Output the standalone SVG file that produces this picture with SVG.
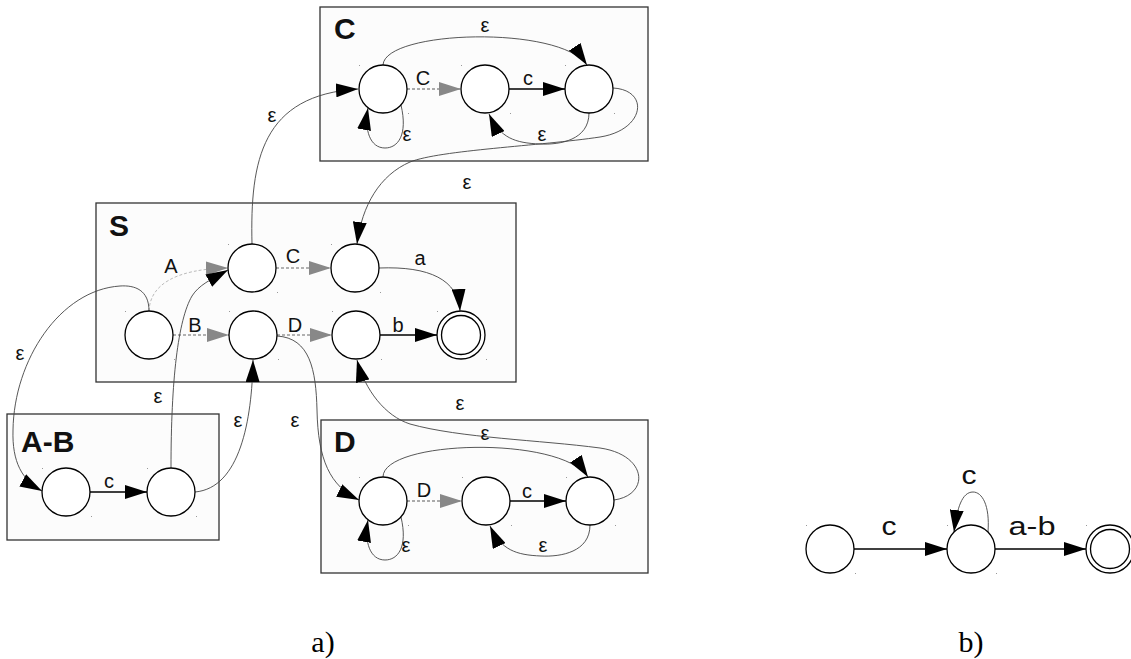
<svg xmlns="http://www.w3.org/2000/svg" width="1131" height="659" viewBox="0 0 1131 659">
<defs>
<style>
.box{fill:#fcfcfc;stroke:#333;stroke-width:1.3}
.boxlbl{font-family:"Liberation Sans",Arial,sans-serif;font-weight:bold;font-size:30px;fill:#111}
.st{fill:#fff;stroke:#000;stroke-width:1.3}
.dot{fill:#999}
.lbl{font-family:"Liberation Sans",Arial,sans-serif;font-size:20px;fill:#111;text-anchor:middle}
.lblb{font-family:"Liberation Sans",Arial,sans-serif;font-size:25px;fill:#111;text-anchor:middle}
.cap{font-family:"Liberation Serif","Times New Roman",serif;font-size:30px;fill:#000;text-anchor:middle}
.sol{fill:none;stroke:#000;stroke-width:1.4}
.cur{fill:none;stroke:#444;stroke-width:0.9}
.dsh{fill:none;stroke:#666;stroke-width:1.1;stroke-dasharray:3 2}
.dshg{fill:none;stroke:#aaa;stroke-width:1.8;stroke-dasharray:3 2}
.dshl{fill:none;stroke:#bbb;stroke-width:1;stroke-dasharray:3 2}
</style>
<marker id="ab" markerUnits="userSpaceOnUse" markerWidth="22" markerHeight="14" refX="22" refY="7" orient="auto"><path d="M0,0 L22,7 L0,14 z" fill="#000"/></marker>
<marker id="ag" markerUnits="userSpaceOnUse" markerWidth="22" markerHeight="14" refX="22" refY="7" orient="auto"><path d="M0,0 L22,7 L0,14 z" fill="#888"/></marker>
</defs>

<g id="boxes">
<g id="box-C"><rect class="box" x="320" y="7" width="328" height="154"/><text class="boxlbl" x="334" y="39">C</text></g>
<g id="box-S"><rect class="box" x="96" y="203" width="420" height="179"/><text class="boxlbl" x="109" y="236">S</text></g>
<g id="box-AB"><rect class="box" x="7" y="414" width="212" height="126"/><text class="boxlbl" x="21" y="452">A-B</text></g>
<g id="box-D"><rect class="box" x="321" y="420" width="327" height="153"/><text class="boxlbl" x="334" y="452">D</text></g>
</g>

<g id="connectors">
<!-- C box -->
<path class="dshg" d="M407,89 L461,89" marker-end="url(#ag)"/>
<path class="sol" d="M509,89 L565,89" marker-end="url(#ab)"/>
<path class="cur" d="M383,65 C385,30 560,25 587,65" marker-end="url(#ab)"/>
<path class="cur" d="M401,105 C408,135 398,148 385,148 C370,148 364,130 368,108" marker-end="url(#ab)"/>
<path class="cur" d="M589,113 C589,140 560,145 540,144 C515,143 500,138 489,114" marker-end="url(#ab)"/>
<path class="cur" d="M613,88 C650,90 645,130 600,137 C540,146 440,150 410,162 C380,175 362,205 357,244" marker-end="url(#ab)"/>
<path class="cur" d="M252,244 C250,160 262,95 358,89" marker-end="url(#ab)"/>
<!-- S box -->
<path class="dshl" d="M149,311 C150,285 175,269 228,268" marker-end="url(#ag)"/>
<path class="dsh" d="M276,268 L331,268" marker-end="url(#ag)"/>
<path class="cur" d="M379,268 C430,266 458,280 460,311" marker-end="url(#ab)"/>
<path class="dsh" d="M173,335 L229,335" marker-end="url(#ag)"/>
<path class="dsh" d="M277,335 L332,335" marker-end="url(#ag)"/>
<path class="sol" d="M380,335 L437,335" marker-end="url(#ab)"/>
<path class="cur" d="M149,311 C149,290 135,285 120,286 C60,290 14,360 13,430 C12,462 22,480 42,491" marker-end="url(#ab)"/>
<path class="cur" d="M171,468 C171,380 178,320 192,296 C199,285 210,280 228,270" marker-end="url(#ab)"/>
<path class="cur" d="M195,492 C240,488 252,420 253,360" marker-end="url(#ab)"/>
<path class="cur" d="M277,336 C310,338 316,370 317,410 C318,460 330,486 359,500" marker-end="url(#ab)"/>
<path class="cur" d="M614,500 C650,495 648,455 600,448 C540,440 460,438 410,424 C385,416 365,390 357,360" marker-end="url(#ab)"/>
<!-- A-B box -->
<path class="sol" d="M90,492 L147,492" marker-end="url(#ab)"/>
<!-- D box -->
<path class="dshg" d="M407,501 L462,501" marker-end="url(#ag)"/>
<path class="sol" d="M510,501 L566,501" marker-end="url(#ab)"/>
<path class="cur" d="M383,477 C383,440 560,435 588,477" marker-end="url(#ab)"/>
<path class="cur" d="M401,517 C408,547 398,560 385,560 C370,560 364,542 368,520" marker-end="url(#ab)"/>
<path class="cur" d="M590,525 C590,552 561,557 541,556 C516,555 501,550 490,526" marker-end="url(#ab)"/>
<!-- b) -->
<path class="sol" d="M854,549 L947,549" marker-end="url(#ab)"/>
<path class="cur" d="M988,532 C990,505 982,492 973,492 C962,492 957,508 954,532" marker-end="url(#ab)"/>
<path class="sol" d="M995,549 L1086,549" marker-end="url(#ab)"/>
</g>

<g id="nodes">
<g id="C1"><circle class="st" cx="383" cy="89" r="24"/><rect class="dot" x="359" y="65" width="1" height="1"/><rect class="dot" x="408" y="113" width="1" height="1"/></g>
<g id="C2"><circle class="st" cx="485" cy="89" r="24"/><rect class="dot" x="461" y="65" width="1" height="1"/><rect class="dot" x="510" y="113" width="1" height="1"/></g>
<g id="C3"><circle class="st" cx="589" cy="89" r="24"/><rect class="dot" x="565" y="65" width="1" height="1"/><rect class="dot" x="614" y="113" width="1" height="1"/></g>
<g id="S1"><circle class="st" cx="252" cy="268" r="24"/><rect class="dot" x="228" y="244" width="1" height="1"/><rect class="dot" x="277" y="292" width="1" height="1"/></g>
<g id="S2"><circle class="st" cx="355" cy="268" r="24"/><rect class="dot" x="331" y="244" width="1" height="1"/><rect class="dot" x="380" y="292" width="1" height="1"/></g>
<g id="S0"><circle class="st" cx="149" cy="335" r="24"/><rect class="dot" x="125" y="311" width="1" height="1"/><rect class="dot" x="174" y="359" width="1" height="1"/></g>
<g id="S3"><circle class="st" cx="253" cy="335" r="24"/><rect class="dot" x="229" y="311" width="1" height="1"/><rect class="dot" x="278" y="359" width="1" height="1"/></g>
<g id="S4"><circle class="st" cx="356" cy="335" r="24"/><rect class="dot" x="332" y="311" width="1" height="1"/><rect class="dot" x="381" y="359" width="1" height="1"/></g>
<g id="SF"><circle class="st" cx="461" cy="335" r="24"/><circle class="st" cx="461" cy="335" r="19.5"/><rect class="dot" x="437" y="311" width="1" height="1"/><rect class="dot" x="486" y="359" width="1" height="1"/></g>
<g id="AB1"><circle class="st" cx="66" cy="492" r="24"/><rect class="dot" x="42" y="468" width="1" height="1"/><rect class="dot" x="91" y="516" width="1" height="1"/></g>
<g id="AB2"><circle class="st" cx="171" cy="492" r="24"/><rect class="dot" x="147" y="468" width="1" height="1"/><rect class="dot" x="196" y="516" width="1" height="1"/></g>
<g id="D1"><circle class="st" cx="383" cy="501" r="24"/><rect class="dot" x="359" y="477" width="1" height="1"/><rect class="dot" x="408" y="525" width="1" height="1"/></g>
<g id="D2"><circle class="st" cx="486" cy="501" r="24"/><rect class="dot" x="462" y="477" width="1" height="1"/><rect class="dot" x="511" y="525" width="1" height="1"/></g>
<g id="D3"><circle class="st" cx="590" cy="501" r="24"/><rect class="dot" x="566" y="477" width="1" height="1"/><rect class="dot" x="615" y="525" width="1" height="1"/></g>
<g id="B1"><circle class="st" cx="830" cy="549" r="24"/><rect class="dot" x="806" y="525" width="1" height="1"/><rect class="dot" x="855" y="573" width="1" height="1"/></g>
<g id="B2"><circle class="st" cx="971" cy="549" r="24"/><rect class="dot" x="947" y="525" width="1" height="1"/><rect class="dot" x="996" y="573" width="1" height="1"/></g>
<g id="BF"><circle class="st" cx="1110" cy="549" r="24"/><circle class="st" cx="1110" cy="549" r="19.5"/><rect class="dot" x="1086" y="525" width="1" height="1"/></g>
</g>

<g id="labels">
<text class="lbl" x="485" y="32">ε</text>
<text class="lbl" x="423" y="85">C</text>
<text class="lbl" x="528" y="85">c</text>
<text class="lbl" x="407" y="141">ε</text>
<text class="lbl" x="542" y="141">ε</text>
<text class="lbl" x="467" y="189">ε</text>
<text class="lbl" x="272" y="122">ε</text>
<text class="lbl" x="171" y="273">A</text>
<text class="lbl" x="293" y="263">C</text>
<text class="lbl" x="420" y="265">a</text>
<text class="lbl" x="195" y="332">B</text>
<text class="lbl" x="295" y="332">D</text>
<text class="lbl" x="398" y="332">b</text>
<text class="lbl" x="20" y="360">ε</text>
<text class="lbl" x="158" y="403">ε</text>
<text class="lbl" x="238" y="427">ε</text>
<text class="lbl" x="295" y="427">ε</text>
<text class="lbl" x="109" y="488">c</text>
<text class="lbl" x="460" y="410">ε</text>
<text class="lbl" x="485" y="440">ε</text>
<text class="lbl" x="424" y="497">D</text>
<text class="lbl" x="527" y="498">c</text>
<text class="lbl" x="406" y="552">ε</text>
<text class="lbl" x="543" y="552">ε</text>
<text class="lblb" x="889" y="535" textLength="15" lengthAdjust="spacingAndGlyphs">c</text>
<text class="lblb" x="969" y="484" textLength="15" lengthAdjust="spacingAndGlyphs">c</text>
<text class="lblb" x="1032" y="535" textLength="47" lengthAdjust="spacingAndGlyphs">a-b</text>
<text class="cap" x="323" y="652">a)</text>
<text class="cap" x="971" y="652">b)</text>
</g>
</svg>
